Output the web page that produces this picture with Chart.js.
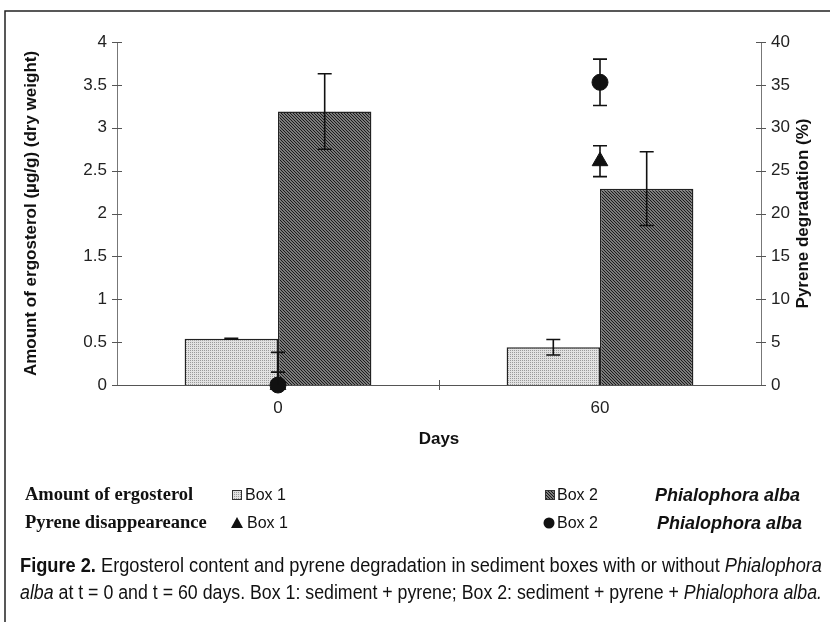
<!DOCTYPE html>
<html>
<head>
<meta charset="utf-8">
<script src="https://cdn.jsdelivr.net/npm/chart.js@4.4.1/dist/chart.umd.min.js"></script>
<style>
    html, body { margin: 0; padding: 0; background: #fff; }
    #wrap { width: 830px; height: 622px; }
</style>
</head>
<body>
<div id="wrap"><canvas id="ergo-chart" width="830" height="622"></canvas></div>
<script>
// values
const days = ['0', '60'];
const ergoBox1 = [0.54, 0.44];
const ergoBox1Err = [0.005, 0.09];
const ergoBox2 = [3.19, 2.29];
const ergoBox2Err = [0.44, 0.43];
const pyreneBox1 = [0, 26.1];
const pyreneBox1Err = [3.8, 1.8];
const pyreneBox2 = [0, 35.3];
const pyreneBox2Err = [1.5, 2.7];

const SANS = '"Liberation Sans", Arial, sans-serif';
const SERIF = '"Liberation Serif", "Times New Roman", serif';
const NARROW = '"Liberation Sans Narrow", "Liberation Sans", Arial, sans-serif';

function makePattern(size, bg, fg, dots) {
    const c = document.createElement('canvas');
    c.width = size;
    c.height = size;
    const g = c.getContext('2d');
    g.fillStyle = bg;
    g.fillRect(0, 0, size, size);
    g.fillStyle = fg;
    dots.forEach(d => g.fillRect(d[0], d[1], 1, 1));
    return g.createPattern(c, 'repeat');
}

const ctx0 = document.getElementById('ergo-chart').getContext('2d');
const lightFill = makePattern(2, '#e2e2e2', '#9a9a9a', [[0, 0]]);
const darkFill = makePattern(3, '#7a7a7a', '#1a1a1a', [[0, 0], [1, 1], [2, 2]]);

// crossing tick marks on the y axes + one on the x axis between the groups
const tickMarks = {
    id: 'tickMarks',
    afterDraw(chart) {
        const ctx = chart.ctx;
        const y = chart.scales.y, y2 = chart.scales.y2, x = chart.scales.x;
        ctx.save();
        ctx.strokeStyle = '#555';
        ctx.lineWidth = 1;
        ctx.beginPath();
        y.ticks.forEach(t => {
            const py = Math.round(y.getPixelForValue(t.value)) + 0.5;
            ctx.moveTo(y.right - 5, py);
            ctx.lineTo(y.right + 5, py);
        });
        y2.ticks.forEach(t => {
            const py = Math.round(y2.getPixelForValue(t.value)) + 0.5;
            ctx.moveTo(y2.left - 5, py);
            ctx.lineTo(y2.left + 5, py);
        });
        const mid = Math.round((x.getPixelForValue(0) + x.getPixelForValue(1)) / 2) + 0.5;
        ctx.moveTo(mid, x.top - 5);
        ctx.lineTo(mid, x.top + 5);
        ctx.stroke();
        ctx.restore();
    }
};

const errorBars = {
    id: 'errorBars',
    afterDatasetsDraw(chart) {
        const ctx = chart.ctx;
        ctx.save();
        ctx.strokeStyle = '#111';
        ctx.lineWidth = 1.6;
        chart.data.datasets.forEach((ds, i) => {
            if (!ds.errors) return;
            const meta = chart.getDatasetMeta(i);
            const scale = chart.scales[ds.yAxisID];
            meta.data.forEach((el, j) => {
                const v = ds.data[j];
                const e = ds.errors[j];
                const px = el.x;
                const top = scale.getPixelForValue(v + e);
                const low = v - e;
                const bot = scale.getPixelForValue(Math.max(low, 0));
                const cap = 7;
                ctx.beginPath();
                ctx.moveTo(px, top);
                ctx.lineTo(px, bot);
                ctx.moveTo(px - cap, top);
                ctx.lineTo(px + cap, top);
                if (low >= 0) {
                    ctx.moveTo(px - cap, bot);
                    ctx.lineTo(px + cap, bot);
                }
                ctx.stroke();
            });
        });
        ctx.restore();
    }
};

function drawRichLine(ctx, parts, x, y, width) {
    let total = 0;
    parts.forEach(p => {
        ctx.font = p.font;
        total += ctx.measureText(p.text).width;
    });
    ctx.save();
    ctx.translate(x, y);
    ctx.scale(width / total, 1);
    let cx = 0;
    parts.forEach(p => {
        ctx.font = p.font;
        ctx.fillText(p.text, cx, 0);
        cx += ctx.measureText(p.text).width;
    });
    ctx.restore();
}

// frame, right axis title, legend block and caption
const pageExtras = {
    id: 'pageExtras',
    beforeDraw(chart) {
        const ctx = chart.ctx;
        ctx.save();
        ctx.fillStyle = '#fff';
        ctx.fillRect(0, 0, chart.width, chart.height);
        ctx.restore();
    },
    afterDraw(chart) {
        const ctx = chart.ctx;
        const area = chart.chartArea;
        ctx.save();

        // frame
        ctx.strokeStyle = '#222';
        ctx.lineWidth = 1.5;
        ctx.beginPath();
        ctx.moveTo(5, 622);
        ctx.lineTo(5, 11);
        ctx.lineTo(830, 11);
        ctx.stroke();

        // right axis title, reads bottom to top
        ctx.fillStyle = '#111';
        ctx.font = 'bold 17px ' + SANS;
        ctx.textAlign = 'center';
        ctx.textBaseline = 'middle';
        ctx.translate(803, (area.top + area.bottom) / 2);
        ctx.rotate(-Math.PI / 2);
        ctx.fillText('Pyrene degradation (%)', 0, 0);
        ctx.setTransform(1, 0, 0, 1, 0, 0);

        // legend
        ctx.textAlign = 'left';
        ctx.textBaseline = 'middle';
        ctx.font = 'bold 18.5px ' + SERIF;
        ctx.fillText('Amount of ergosterol', 25, 495);
        ctx.fillText('Pyrene disappeareance', 25, 523);

        ctx.lineWidth = 1;
        ctx.strokeStyle = '#333';
        ctx.fillStyle = lightFill;
        ctx.fillRect(232, 490, 10, 10);
        ctx.strokeRect(232.5, 490.5, 9, 9);
        ctx.fillStyle = darkFill;
        ctx.fillRect(545, 490, 10, 10);
        ctx.strokeRect(545.5, 490.5, 9, 9);

        ctx.fillStyle = '#111';
        ctx.beginPath();
        ctx.moveTo(237, 517);
        ctx.lineTo(243, 528);
        ctx.lineTo(231, 528);
        ctx.closePath();
        ctx.fill();
        ctx.beginPath();
        ctx.arc(549, 523, 5.5, 0, Math.PI * 2);
        ctx.fill();

        ctx.font = '16px ' + SANS;
        ctx.fillText('Box 1', 245, 496);
        ctx.fillText('Box 1', 247, 524);
        ctx.fillText('Box 2', 557, 496);
        ctx.fillText('Box 2', 557, 524);
        ctx.font = 'italic bold 18px ' + SANS;
        ctx.fillText('Phialophora alba', 655, 496);
        ctx.fillText('Phialophora alba', 657, 524);

        // caption
        ctx.textBaseline = 'alphabetic';
        ctx.fillStyle = '#111';
        const reg = '20px ' + NARROW;
        const ital = 'italic 20px ' + NARROW;
        const bold = 'bold 20px ' + NARROW;
        drawRichLine(ctx, [
            {text: 'Figure 2.', font: bold},
            {text: ' Ergosterol content and pyrene degradation in sediment boxes with or without ', font: reg},
            {text: 'Phialophora', font: ital}
        ], 20, 572, 802);
        drawRichLine(ctx, [
            {text: 'alba', font: ital},
            {text: ' at t = 0 and t = 60 days. Box 1: sediment + pyrene; Box 2: sediment + pyrene + ', font: reg},
            {text: 'Phialophora alba.', font: ital}
        ], 20, 599, 802);

        ctx.restore();
    }
};

Chart.defaults.font.family = SANS;
Chart.defaults.color = '#222';

const chart = new Chart(ctx0, {
    type: 'bar',
    data: {
        labels: days,
        datasets: [
            {
                label: 'Amount of ergosterol Box 1',
                data: ergoBox1,
                errors: ergoBox1Err,
                yAxisID: 'y',
                backgroundColor: lightFill,
                borderColor: '#222',
                borderWidth: 1.5,
                order: 2
            },
            {
                label: 'Amount of ergosterol Box 2 Phialophora alba',
                data: ergoBox2,
                errors: ergoBox2Err,
                yAxisID: 'y',
                backgroundColor: darkFill,
                borderColor: '#222',
                borderWidth: 1.5,
                order: 2
            },
            {
                type: 'line',
                label: 'Pyrene disappeareance Box 1',
                data: pyreneBox1,
                errors: pyreneBox1Err,
                yAxisID: 'y2',
                showLine: false,
                pointStyle: 'triangle',
                pointRadius: 9,
                pointBackgroundColor: '#111',
                pointBorderColor: '#111',
                clip: false,
                order: 1
            },
            {
                type: 'line',
                label: 'Pyrene disappeareance Box 2 Phialophora alba',
                data: pyreneBox2,
                errors: pyreneBox2Err,
                yAxisID: 'y2',
                showLine: false,
                pointStyle: 'circle',
                pointRadius: 8,
                pointBackgroundColor: '#111',
                pointBorderColor: '#111',
                clip: false,
                order: 0
            }
        ]
    },
    options: {
        responsive: false,
        animation: false,
        devicePixelRatio: 1,
        layout: { padding: { top: 42, left: 0, right: 0, bottom: 157 } },
        plugins: {
            legend: { display: false },
            tooltip: { enabled: false }
        },
        datasets: {
            bar: { categoryPercentage: 0.58, barPercentage: 1 }
        },
        scales: {
            x: {
                grid: { display: false, drawTicks: false },
                border: { color: '#555', width: 1 },
                ticks: { padding: 13, font: { size: 17 } },
                title: {
                    display: true,
                    text: 'Days',
                    font: { size: 17, weight: 'bold' },
                    color: '#111',
                    padding: { top: 0, bottom: 15 }
                },
                afterFit(s) { s.height = 80; }
            },
            y: {
                position: 'left',
                min: 0,
                max: 4,
                ticks: { stepSize: 0.5, padding: 10, font: { size: 17 }, callback: v => String(v) },
                grid: { display: false, drawTicks: false },
                border: { color: '#777', width: 1 },
                title: {
                    display: true,
                    text: 'Amount of ergosterol (\u00b5g/g) (dry weight)',
                    font: { size: 17, weight: 'bold' },
                    color: '#111',
                    padding: { top: 21, bottom: 0 }
                },
                afterFit(s) { s.width = 117; }
            },
            y2: {
                position: 'right',
                min: 0,
                max: 40,
                ticks: { stepSize: 5, padding: 10, font: { size: 17 } },
                grid: { display: false, drawTicks: false },
                border: { color: '#777', width: 1 },
                afterFit(s) { s.width = 69; }
            }
        }
    },
    plugins: [tickMarks, errorBars, pageExtras]
});
</script>
</body>
</html>
